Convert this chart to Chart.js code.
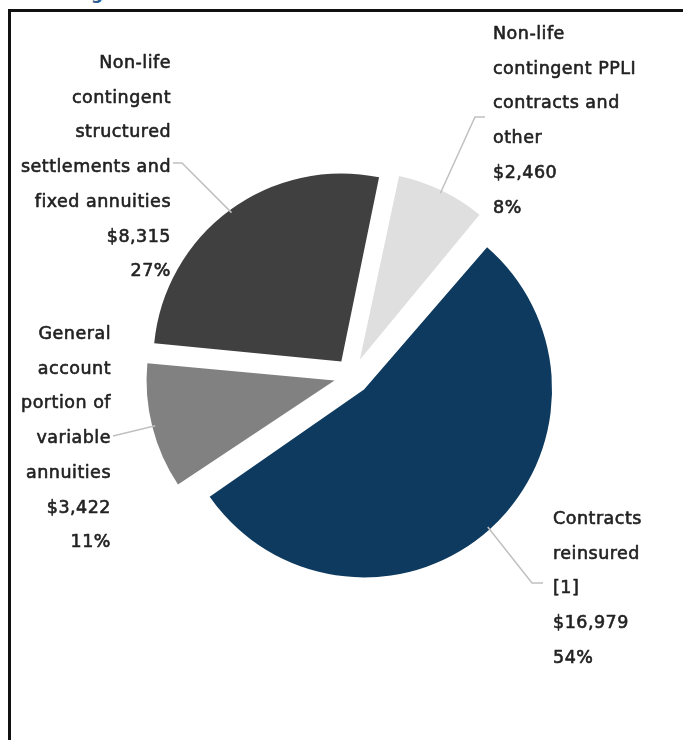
<!DOCTYPE html>
<html lang="en">
<head>
<meta charset="UTF-8" />
<title>Contracts reinsured</title>
<script src="https://cdn.jsdelivr.net/npm/chart.js"></script>
<style>
  html, body { margin: 0; padding: 0; background: #fff; }
  body { width: 683px; height: 740px; position: relative; overflow: hidden; }
  .frame { position: absolute; left: 8px; top: 9px; width: 700px; height: 760px;
           border-left: 3px solid #111; border-top: 3px solid #111; }
  .cut { position: absolute; left: 91px; top: -17px; font: bold 17px "DejaVu Sans"; color: #2a5d93; }
  #pie { position: absolute; left: 0; top: 0; }
</style>
</head>
<body>
<div class="cut">g</div>
<div class="frame"></div>
<canvas id="pie" width="683" height="740"></canvas>

<script>
// data, clockwise from the navy slice
const categories = ['Contracts reinsured [1]',
                    'General account portion of variable annuities',
                    'Non-life contingent structured settlements and fixed annuities',
                    'Non-life contingent PPLI contracts and other'];
const amounts = [16979, 3422, 8315, 2460];
const amountLabels = ['$16,979', '$3,422', '$8,315', '$2,460'];
const percentLabels = ['54%', '11%', '27%', '8%'];
const labelLines = [
    ['Contracts', 'reinsured', '[1]'],
    ['General', 'account', 'portion of', 'variable', 'annuities'],
    ['Non-life', 'contingent', 'structured', 'settlements and', 'fixed annuities'],
    ['Non-life', 'contingent PPLI', 'contracts and', 'other']
];
const colors = ['#0d3a5e', '#818181', '#404040', '#dfdfdf'];

// where each text block sits and how its leader line bends
const LINE = 34.7;
const layout = [
    { x: 553, y: 524, align: 'left',  elbow: [532, 583], end: [543, 583] },
    { x: 111, y: 339, align: 'right', elbow: null,       end: [113, 436] },
    { x: 171, y: 68,  align: 'right', elbow: [182, 163], end: [173, 163] },
    { x: 493, y: 39,  align: 'left',  elbow: [475, 117], end: [485, 117] }
];

const sliceLabels = {
    id: 'sliceLabels',
    beforeDatasetsDraw(chart) {
        // keep every exploded slice at the same radius
        const meta = chart.getDatasetMeta(0);
        const R = meta.controller.outerRadius;
        meta.data.forEach(arc => {
            const shift = (arc.options.offset || 0) / 4;
            const fix = 1 - Math.sin(Math.min(Math.PI, arc.circumference));
            arc.outerRadius = R - shift * fix;
        });
    },
    afterDatasetsDraw(chart) {
        const ctx = chart.ctx;
        const meta = chart.getDatasetMeta(0);
        const R = meta.controller.outerRadius;
        ctx.save();

        // leader lines
        ctx.strokeStyle = '#c0c0c0';
        ctx.lineWidth = 1.5;
        meta.data.forEach((arc, i) => {
            const L = layout[i];
            const mid = (arc.startAngle + arc.endAngle) / 2;
            const d = (arc.options.offset || 0) / 4 + R - 3;
            ctx.beginPath();
            ctx.moveTo(arc.x + Math.cos(mid) * d, arc.y + Math.sin(mid) * d);
            if (L.elbow) ctx.lineTo(L.elbow[0], L.elbow[1]);
            ctx.lineTo(L.end[0], L.end[1]);
            ctx.stroke();
        });

        // text blocks (a thin stroke gives the medium weight)
        ctx.font = '17.5px "DejaVu Sans"';
        ctx.letterSpacing = '0.5px';
        ctx.fillStyle = '#222';
        ctx.strokeStyle = '#222';
        ctx.lineWidth = 0.6;
        ctx.lineJoin = 'round';
        ctx.textBaseline = 'alphabetic';
        layout.forEach((L, i) => {
            const lines = labelLines[i].concat([amountLabels[i], percentLabels[i]]);
            ctx.textAlign = L.align;
            lines.forEach((s, k) => {
                ctx.fillText(s, L.x, L.y + k * LINE);
                ctx.strokeText(s, L.x, L.y + k * LINE);
            });
        });
        ctx.restore();
    }
};

new Chart(document.getElementById('pie'), {
    type: 'pie',
    data: {
        labels: categories,
        datasets: [{
            data: amounts,
            backgroundColor: colors,
            borderWidth: 0,
            offset: 72
        }]
    },
    options: {
        responsive: false,
        animation: false,
        events: [],
        rotation: 40,
        radius: 188,
        layout: { padding: { left: 52, right: 31, top: 76, bottom: 64 } },
        plugins: {
            legend: { display: false },
            tooltip: { enabled: false }
        }
    },
    plugins: [sliceLabels]
});
</script>
</body>
</html>
